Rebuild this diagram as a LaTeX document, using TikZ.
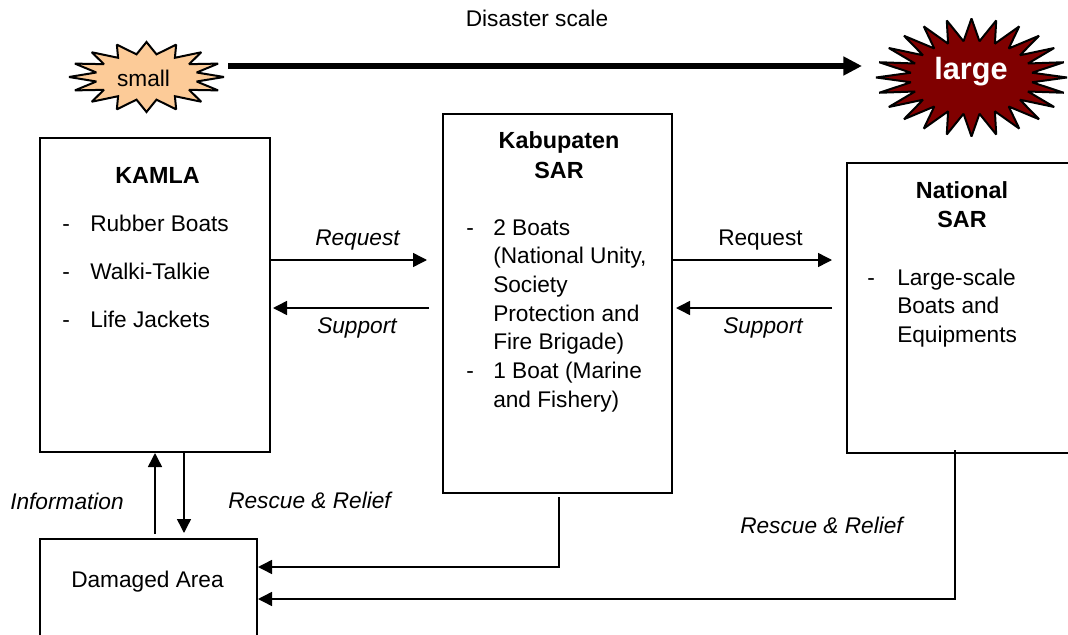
\documentclass[tikz,border=0pt]{standalone}
\usepackage{fontspec}
\setmainfont{Liberation Sans}
\usetikzlibrary{arrows.meta,calc}
\definecolor{peach}{RGB}{252,203,152}
\definecolor{darkmaroon}{RGB}{128,0,0}
\begin{document}
\fontsize{17}{20}\selectfont
\begin{tikzpicture}[x=0.75pt,y=-0.75pt,
  box/.style={draw,rectangle,line width=1.5pt,inner sep=0pt},
  arr/.style={line width=1.1pt,-{Triangle[length=10.5pt,width=10.5pt]}},
  bigarr/.style={line width=4.5pt,-{Triangle[length=14pt,width=13.5pt]}},
  lbl/.style={inner sep=0pt,anchor=base west},
  ilbl/.style={lbl,font=\itshape},
  ctr/.style={inner sep=0pt,anchor=base},
  ttl/.style={inner sep=0pt,anchor=base,font=\fontsize{17.5}{20}\selectfont\bfseries},
  burst/.style={draw,line width=1.5pt,line join=miter,miter limit=2}]

% canvas
\fill[white] (0,0) rectangle (1068,635);
\useasboundingbox (0,0) rectangle (1068,635);

% disaster scale
\node[ctr] (scale) at (537,27) {Disaster scale};
\draw[burst,fill=peach] plot[samples=32,domain=0:31,variable=\k]
  ({146.5+ifthenelse(mod(round(\k),2)==0,1,0.66)*77.5*cos(90+\k*11.25)},
   {77-ifthenelse(mod(round(\k),2)==0,1,0.66)*35*sin(90+\k*11.25)}) -- cycle;
\draw[burst,fill=darkmaroon] plot[samples=48,domain=0:47,variable=\k]
  ({971.5+ifthenelse(mod(round(\k),2)==0,1,0.64)*95.5*cos(90+\k*7.5)},
   {77.5-ifthenelse(mod(round(\k),2)==0,1,0.62)*59*sin(90+\k*7.5)}) -- cycle;
\node[ctr] (small) at (143.5,87) {small};
\node[ctr,text=white,font=\fontsize{23}{26}\selectfont\bfseries] (large) at (971,80) {large};
\coordinate (scaleL) at (228,66);
\coordinate (scaleR) at (862,66);
\draw[bigarr] (scaleL) -- (scaleR);

% boxes
\node[box,minimum width={230*0.75pt},minimum height={314*0.75pt}] (kamla) at (155,295) {};
\node[box,minimum width={229*0.75pt},minimum height={379*0.75pt}] (kab) at (557.5,303.5) {};
\node[box,minimum width={228*0.75pt},minimum height={290*0.75pt}] (nat) at (961,308) {};
\node[box,minimum width={217*0.75pt},minimum height={111*0.75pt}] (dmg) at (148.5,594.5) {};

% KAMLA
\node[ttl] (kamlaT) at (157.5,183) {KAMLA};
\node[lbl] (kd1) at (62,231) {-};
\node[lbl] (k1) at (90,231) {Rubber Boats};
\node[lbl] (kd2) at (62,279) {-};
\node[lbl] (k2) at (90,279) {Walki-Talkie};
\node[lbl] (kd3) at (62,327) {-};
\node[lbl] (k3) at (90,327) {Life Jackets};

% Kabupaten SAR
\node[ttl] (kabT1) at (559,148) {Kabupaten};
\node[ttl] (kabT2) at (559,178) {SAR};
\node[lbl] (bd1) at (466,235) {-};
\node[lbl] (b1) at (493,235) {2 Boats};
\node[lbl] (b2) at (493,263.7) {(National Unity,};
\node[lbl] (b3) at (493,292.4) {Society};
\node[lbl] (b4) at (493,321) {Protection and};
\node[lbl] (b5) at (493,349.8) {Fire Brigade)};
\node[lbl] (bd2) at (466,378.5) {-};
\node[lbl] (b6) at (493,378.5) {1 Boat (Marine};
\node[lbl] (b7) at (493,407) {and Fishery)};

% National SAR
\node[ttl] (natT1) at (962,198) {National};
\node[ttl] (natT2) at (962,227) {SAR};
\node[lbl] (nd1) at (867,285) {-};
\node[lbl] (n1) at (897,285) {Large-scale};
\node[lbl] (n2) at (897,313) {Boats and};
\node[lbl] (n3) at (897,342) {Equipments};

% Damaged area
\node[lbl] (dmgT) at (71,587) {Damaged Area};

% request / support between the SAR levels
\draw[arr] ($(kamla.east)+(0,-35)$) coordinate (rq1) -- ($(kab.west |- rq1)+(-15,0)$);
\draw[arr] ($(kab.west)+(-13,4.5)$) coordinate (sp1) -- ($(kamla.east |- sp1)+(2,0)$);
\draw[arr] ($(kab.east)+(0,-43.5)$) coordinate (rq2) -- ($(nat.west |- rq2)+(-14,0)$);
\draw[arr] ($(nat.west)+(-14,0)$) coordinate (sp2) -- ($(kab.east |- sp2)+(3,0)$);
\node[ilbl] (rq1T) at (315,245) {Request};
\node[ilbl] (sp1T) at (317,333) {Support};
\node[lbl] (rq2T) at (718,245) {Request};
\node[ilbl] (sp2T) at (723,333) {Support};

% KAMLA and the damaged area
\draw[arr] ($(kamla.south |- dmg.north)+(0,-4)$) -- (kamla.south);
\draw[arr] ($(kamla.south)+(29,0)$) coordinate (rr) -- ($(rr |- dmg.north)+(0,-5)$);
\node[ilbl] (infoT) at (10,509) {Information};
\node[ilbl] (rr1T) at (228,508) {Rescue \& Relief};

% rescue and relief from the SAR teams
\draw[arr] ($(kab.south)+(1.5,3)$) |- ($(dmg.east)+(0,-27.5)$);
\draw[arr] ($(nat.south)+(-6,-4)$) |- ($(dmg.east)+(0,4.5)$);
\node[ilbl] (rr2T) at (740,533) {Rescue \& Relief};
\end{tikzpicture}
\end{document}
